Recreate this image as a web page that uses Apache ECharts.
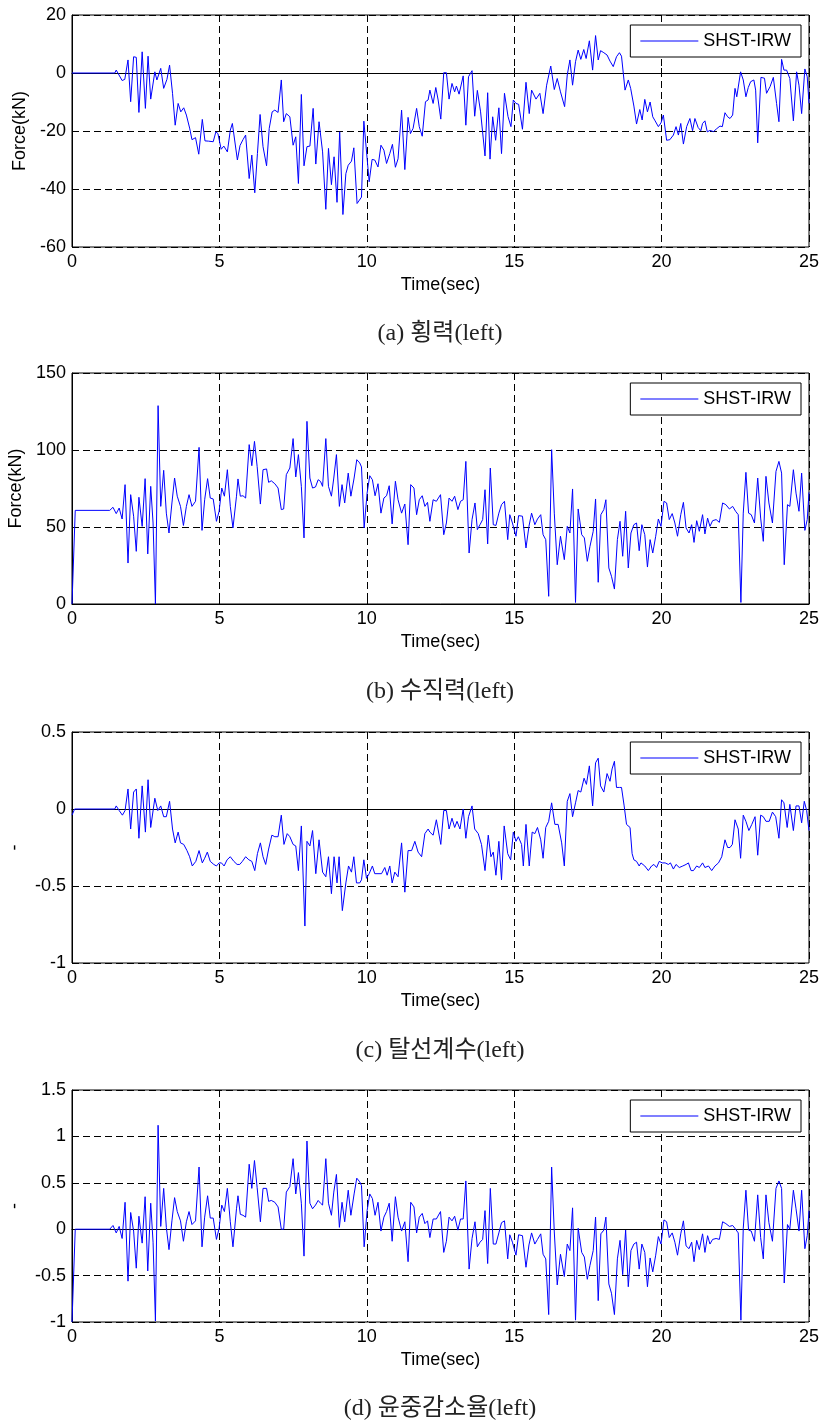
<!DOCTYPE html>
<html>
<head>
<meta charset="utf-8">
<script src="https://cdn.jsdelivr.net/npm/echarts@6/dist/echarts.min.js"></script>
<style>
html,body{margin:0;padding:0;background:#fff;}
#chart{width:826px;height:1424px;}
</style>
</head>
<body>
<div id="chart"></div>
<script>
// ---------- Data ----------
const seriesName = 'SHST-IRW';
const xTicks = [0, 5, 10, 15, 20, 25];
const captions = ['(a) 횡력(left)', '(b) 수직력(left)', '(c) 탈선계수(left)', '(d) 윤중감소율(left)'];
const yNames = ['Force(kN)', 'Force(kN)', '-', '-'];

// (a) lateral force
const timeA = [0,1.45,1.5,1.7,1.79,1.9,1.99,2.09,2.18,2.27,
2.38,2.49,2.58,2.67,2.81,2.88,3.01,3.11,3.22,3.31,
3.41,3.5,3.6,3.69,3.79,3.88,3.99,4.07,4.19,4.3,
4.42,4.51,4.63,4.79,4.88,4.95,5.06,5.15,5.27,5.37,
5.44,5.61,5.7,5.8,5.89,6.01,6.1,6.2,6.29,6.38,
6.48,6.6,6.69,6.79,6.88,6.99,7.1,7.18,7.27,7.39,
7.5,7.59,7.68,7.78,7.87,7.97,8.07,8.18,8.27,8.38,
8.5,8.61,8.7,8.8,8.89,8.99,9.08,9.19,9.29,9.37,
9.48,9.56,9.67,9.82,9.9,10.08,10.18,10.27,10.38,10.48,
10.58,10.67,10.78,10.87,10.97,11.06,11.18,11.29,11.4,11.48,
11.57,11.69,11.78,11.88,11.99,12.08,
12.14,12.25,12.34,12.42,12.51,12.61,12.7,12.79,12.89,12.98,
13.04,13.13,13.27,13.36,13.45,13.57,13.66,13.75,13.86,14.01,
14.1,14.18,14.27,14.37,14.48,14.57,14.67,14.79,14.89,14.97,
15.06,15.15,15.28,15.4,15.51,15.59,15.74,15.87,15.98,16.1,
16.24,16.36,16.46,16.57,16.71,16.8,16.89,16.98,17.08,17.17,
17.26,17.36,17.44,17.55,17.66,17.76,17.85,17.93,18.04,18.15,
18.25,18.36,18.47,18.57,18.64,18.76,18.87,18.95,19.06,19.15,
19.26,19.34,19.43,19.52,19.61,19.7,19.78,19.89,19.98,20.06,
20.17,20.28,20.4,20.49,20.57,20.65,20.74,20.85,20.96,21.05,
21.13,21.24,21.33,21.39,21.47,21.55,21.64,21.76,21.87,21.98,
22.06,22.15,22.24,22.32,22.41,22.49,22.55,22.68,22.77,22.86,
22.94,23.02,23.13,23.19,23.26,23.37,23.49,23.56,23.68,23.79,
23.9,23.98,24.07,24.15,24.24,24.35,24.47,24.58,24.66,24.75,
24.86,24.94,25];
const lateralForce = [0,0,1,-2.6,-2.2,4.5,-9.9,5.6,5.4,-13.6,
7.3,-12.2,5.8,-9,0.4,-2.4,1.6,-5.3,-2.2,2.7,
-7,-18,-10.5,-13.4,-12,-14.5,-19,-23,-22.3,-28,
-16,-23.4,-23.5,-23.7,-20.3,-20.9,-26.3,-25.2,-27.2,-19.7,
-17.4,-30,-25,-23,-21.4,-36.4,-28.3,-41.3,-27.8,-14.3,
-25.4,-32,-19.1,-13.4,-12.8,-13.6,-2.4,-16.8,-14,-15.1,
-24.9,-22,-38.1,-7.4,-32,-25.4,-25.2,-12.2,-31.4,-16.8,
-27.2,-47,-26,-38.5,-28.9,-44.6,-20.3,-48.8,-34.7,-31.8,
-30.4,-25.8,-45,-42.8,-16.6,-37.5,-29.8,-30,-32.4,-24.9,
-26.6,-31.2,-27.8,-24.6,-32.5,-29.6,-12.8,-33.3,-15.3,-20.9,
-19.1,-12.2,-18.5,-21.8,-9.9,-9.3,
-5.9,-10.5,-5,-9.3,-15.9,0.1,0.1,-9,-3.6,-6.5,
-4.5,-7.3,-1,-18,-1.3,0.8,-14.9,-6,-13.4,-28.6,
-6.8,-29.7,-15.1,-23.2,-12,-27.8,-7,-15,-18.5,-9.3,
-10.5,-10.8,-19.4,-3.2,-14,-5.9,-9,-7,-14,-4.2,
2.4,-5.7,-1.9,-6.5,-11.6,-0.7,4.5,-4.2,3.9,7.9,
4.7,8.1,5,11.1,1,12.9,4.5,7.7,7,6.2,
4.1,2.2,5.6,7,5.8,-5.9,-2.4,-5.3,-11.4,-17.6,
-12.6,-16.2,-9.1,-13.4,-10,-15.1,-16.5,-18.5,-17.2,-14.5,
-23.2,-23,-21.4,-18.5,-21.4,-17.4,-24.5,-18.5,-15.7,-19.9,
-15.7,-18.8,-19.9,-17.4,-16.5,-20.3,-19.8,-20.2,-19.2,-18.3,
-18.5,-13.7,-15.1,-15.7,-14.5,-5.3,-8.2,0.4,-2.4,-8.2,
-5,-3,-2.4,-5.9,-24.1,-1.5,-1.8,-7,-4.7,-1.5,
-10.5,-16.8,4.7,1,1,-1.9,-16.5,0.4,-4.2,-14,
1.4,-1.3,-10.5];

// (b) vertical force and (d) load reduction share the same sample times
const timeB = [0,0.11,1.28,1.39,1.5,1.6,1.7,1.8,1.9,1.99,
2.09,2.18,2.27,2.38,2.48,2.57,2.67,2.75,2.83,2.92,
3.01,3.11,3.2,3.29,3.39,3.48,3.57,3.68,3.78,3.88,
3.97,4.07,4.19,4.31,4.41,4.5,4.6,4.69,4.79,4.9,
4.99,5.08,5.17,5.27,5.37,5.46,5.58,5.63,5.71,5.8,
5.89,6.01,6.1,6.19,6.28,6.39,6.48,6.6,6.67,6.76,
6.88,6.99,7.1,7.18,7.27,7.39,7.5,7.59,7.68,7.78,
7.87,7.97,8.07,8.16,8.26,8.35,8.43,8.5,8.61,8.7,
8.8,8.88,8.97,9.07,9.16,9.25,9.37,9.46,9.57,9.66,
9.76,9.82,9.91,10.01,10.1,10.19,10.28,10.38,10.48,10.58,
10.67,10.76,10.86,10.97,11.06,11.18,11.29,11.4,11.49,11.6,
11.69,11.78,11.88,11.97,12.06,
12.14,12.25,12.36,12.5,12.61,12.7,12.79,12.89,12.98,13.09,
13.18,13.27,13.36,13.47,13.57,13.67,13.75,13.84,13.93,14.01,
14.1,14.19,14.29,14.38,14.48,14.57,14.67,14.78,14.85,14.94,
15.06,15.15,15.28,15.4,15.5,15.59,15.7,15.79,15.9,15.98,
16.07,16.17,16.27,16.36,16.46,16.57,16.7,16.8,16.89,16.98,
17.08,17.17,17.29,17.38,17.48,17.57,17.68,17.76,17.85,17.94,
18.04,18.11,18.21,18.3,18.4,18.5,18.59,18.68,18.78,18.87,
18.96,19.06,19.15,19.24,19.33,19.43,19.52,19.61,19.7,19.8,
19.89,19.98,20.08,20.17,20.26,20.36,20.45,20.54,20.65,20.74,
20.83,20.93,21.02,21.1,21.19,21.28,21.39,21.47,21.56,21.64,
21.73,21.85,21.96,22.07,22.18,22.3,22.41,22.51,22.6,22.69,
22.77,22.86,22.95,23.04,23.15,23.26,23.36,23.45,23.54,23.64,
23.76,23.88,23.98,24.07,24.16,24.27,24.35,24.47,24.56,24.66,
24.75,24.86,24.94,25];
const verticalForce = [0,60.8,60.8,62.8,58.7,62.3,55.2,77.5,26.6,71,
57,34.2,69.3,50.4,81.4,32.5,76.4,52.6,0,128.8,
63.4,86.8,59,46.1,65.6,81.8,70,63.4,51,63.4,
71,63.4,66.7,101.7,47.8,67.7,81.4,68.8,68.2,53.7,
60.2,75.3,70,87.2,63.4,49.4,70,81.2,70,70.3,
68.8,103.5,89.8,105.6,89.4,64.9,87.2,87.7,79,80,
78.1,75.3,61.3,61.7,84,88.3,107.4,82.5,97,76.4,
42.9,118.6,81.8,75.3,76,80.7,79.6,76.4,107.4,76.4,
70,81.8,97,63.4,77.5,65.6,85,70,81.8,93.7,
91.6,89,49.4,72,83.3,80.7,70.3,78.1,59,68.8,
70.3,76.8,52,79.7,67.7,59,64.9,38.5,77.5,75.3,
58,67.7,70.3,63.4,66,
53.7,67.7,66.7,71,45,52.6,68.8,66.7,70,61.3,
66.7,67.7,92.6,33.1,54.8,65.6,48.3,51.5,54.8,74.2,
39,88.3,51.5,51,59,64.5,66.7,41.8,58,52.6,
44,57.4,57,36.4,50.4,59,51.5,55.2,58,45,
41.8,5,100.2,59,25.5,44,28.8,50.4,46.1,74.7,
1,61.7,45,42.9,27.7,37.4,47.2,68.2,14.1,58,
61.3,67.7,23.4,18,9.7,41.8,53.7,31,60.2,23.4,
46.1,51.5,52.6,34.6,51.5,45,24,41.8,33.1,44,
55.2,50.4,66.7,65.6,54.8,58.7,52.6,44,58,66,
49.4,46.1,51.5,40,54.1,47.2,58,45.5,55.8,50.4,
54.1,54.8,53,65.6,64.5,61.7,63.4,60.2,58,1,
59,85.5,59,58,52.6,81.8,55.8,40.7,82.9,65.6,
52.6,86.1,92.6,85,25.5,64.5,63.4,87.2,72,60.2,
85,47.8,54.8,72.5];
const loadReduction = [-1,0,0,0.04,-0.04,0.03,-0.1,0.29,-0.56,0.18,
-0.02,-0.42,0.14,-0.15,0.35,-0.45,0.28,-0.14,-0.99,1.12,
0.03,0.44,0.02,-0.22,0.09,0.34,0.19,0.09,-0.13,0.08,
0.19,0.05,0.09,0.67,-0.19,0.13,0.36,0.12,0.12,-0.11,
0.01,0.26,0.19,0.44,0.08,-0.19,0.22,0.36,0.16,0.15,
0.13,0.7,0.44,0.74,0.45,0.08,0.44,0.44,0.3,0.31,
0.29,0.24,0,0,0.4,0.46,0.76,0.38,0.61,0.28,
-0.29,0.95,0.28,0.22,0.26,0.31,0.28,0.26,0.76,0.28,
0.15,0.4,0.59,0.02,0.29,0.08,0.42,0.15,0.38,0.55,
0.51,0.47,-0.19,0.2,0.38,0.33,0.15,0.29,-0.02,0.13,
0.19,0.28,-0.13,0.35,0.13,-0.02,0.08,-0.35,0.29,0.24,
-0.04,0.13,0.17,0.06,0.09,
-0.09,0.11,0.11,0.19,-0.25,-0.13,0.13,0.09,0.14,-0.01,
0.11,0.11,0.52,-0.43,-0.1,0.08,-0.19,-0.14,-0.11,0.2,
-0.37,0.44,-0.16,-0.16,-0.04,0.07,0.09,-0.32,-0.06,-0.14,
-0.28,-0.06,-0.07,-0.41,-0.17,-0.04,-0.16,-0.11,-0.05,-0.27,
-0.32,-0.92,0.67,-0.03,-0.6,-0.27,-0.51,-0.16,-0.23,0.23,
-0.98,0.01,-0.25,-0.3,-0.54,-0.39,-0.23,0.13,-0.77,-0.05,
-0.01,0.13,-0.59,-0.69,-0.92,-0.32,-0.12,-0.49,-0.01,-0.62,
-0.23,-0.16,-0.14,-0.43,-0.16,-0.25,-0.62,-0.31,-0.46,-0.28,
-0.08,-0.16,0.1,0.08,-0.09,-0.04,-0.14,-0.28,-0.05,0.09,
-0.18,-0.21,-0.14,-0.35,-0.12,-0.22,-0.05,-0.25,-0.07,-0.16,
-0.11,-0.1,-0.11,0.08,0.06,0.03,0.04,0,-0.04,-0.98,
0.01,0.42,-0.01,-0.02,-0.13,0.37,-0.09,-0.32,0.37,0.07,
-0.13,0.44,0.52,0.44,-0.58,0.05,0,0.42,0.22,-0.02,
0.42,-0.21,-0.07,0.2];

// (c) derailment coefficient
const timeC = [0,0.09,1.45,1.5,1.6,1.71,1.8,1.9,1.99,2.09,
2.18,2.27,2.38,2.49,2.58,2.67,2.81,2.91,3.01,3.11,
3.2,3.31,3.41,3.5,3.6,3.68,3.79,3.9,3.99,4.08,
4.2,4.31,4.42,4.5,4.59,4.69,4.81,4.9,4.99,5.07,
5.16,5.26,5.37,5.49,5.6,5.69,5.78,5.89,6,6.1,
6.2,6.29,6.39,6.48,6.57,6.67,6.78,6.88,6.99,7.1,
7.19,7.3,7.39,7.5,7.59,7.68,7.78,7.9,7.97,8.07,
8.16,8.27,8.38,8.5,8.61,8.7,8.8,8.89,8.99,9.06,
9.17,9.29,9.38,9.48,9.56,9.65,9.76,9.82,9.9,9.99,
10.08,10.19,10.27,10.38,10.5,10.61,10.69,10.78,10.86,10.95,
11.06,11.18,11.29,11.4,11.52,11.63,11.74,11.86,11.97,12.08,
12.14,12.25,12.36,12.51,12.61,12.7,12.79,12.89,12.98,13.06,
13.16,13.27,13.36,13.45,13.57,13.66,13.78,13.89,14.01,14.12,
14.21,14.29,14.38,14.48,14.57,14.66,14.78,14.88,14.97,15.06,
15.14,15.25,15.31,15.4,15.51,15.61,15.7,15.79,15.9,15.98,
16.07,16.17,16.27,16.38,16.49,16.61,16.7,16.8,16.89,16.98,
17.08,17.17,17.26,17.37,17.45,17.55,17.66,17.76,17.85,17.93,
18.04,18.15,18.25,18.32,18.4,18.47,18.57,18.64,18.73,18.81,
18.93,19,19.06,19.15,19.24,19.3,19.43,19.55,19.66,19.74,
19.83,19.92,20.02,20.12,20.23,20.3,20.4,20.49,20.6,20.72,
20.83,20.91,21,21.08,21.19,21.28,21.39,21.47,21.59,21.7,
21.81,21.93,22.04,22.15,22.24,22.32,22.4,22.49,22.6,22.68,
22.77,22.86,22.96,23.06,23.17,23.26,23.36,23.45,23.54,23.65,
23.76,23.87,23.98,24.07,24.15,24.26,24.35,24.47,24.56,24.66,
24.75,24.84,24.92,25];
const derailCoef = [-0.04,0,0,0.02,-0.01,-0.04,-0.01,0.13,-0.13,0.11,
0.13,-0.19,0.15,-0.15,0.19,-0.12,0.07,-0.01,0.02,-0.05,
-0.05,0.05,-0.13,-0.22,-0.15,-0.22,-0.23,-0.27,-0.31,-0.37,
-0.34,-0.27,-0.35,-0.32,-0.28,-0.34,-0.36,-0.37,-0.35,-0.35,
-0.37,-0.33,-0.31,-0.34,-0.36,-0.36,-0.34,-0.31,-0.33,-0.34,
-0.4,-0.29,-0.22,-0.31,-0.36,-0.26,-0.17,-0.18,-0.18,-0.04,
-0.23,-0.16,-0.18,-0.23,-0.24,-0.4,-0.11,-0.76,-0.21,-0.24,
-0.14,-0.42,-0.2,-0.41,-0.44,-0.31,-0.55,-0.31,-0.48,-0.31,
-0.66,-0.48,-0.37,-0.41,-0.31,-0.48,-0.48,-0.46,-0.33,-0.45,
-0.42,-0.37,-0.42,-0.42,-0.42,-0.38,-0.43,-0.37,-0.48,-0.41,
-0.44,-0.22,-0.54,-0.27,-0.27,-0.21,-0.28,-0.31,-0.16,-0.13,
-0.15,-0.17,-0.07,-0.23,-0.01,-0.01,-0.13,-0.06,-0.12,-0.08,
-0.13,0,-0.19,-0.05,0.02,-0.13,-0.16,-0.23,-0.4,-0.17,
-0.31,-0.28,-0.43,-0.21,-0.46,-0.11,-0.29,-0.33,-0.15,-0.21,
-0.18,-0.23,-0.37,-0.1,-0.37,-0.15,-0.16,-0.12,-0.2,-0.32,
-0.12,-0.08,0.04,-0.1,-0.1,-0.22,-0.37,0.05,0.1,-0.05,
0.04,0.12,0.11,0.2,0.16,0.28,0.02,0.3,0.33,0.15,
0.11,0.23,0.18,0.26,0.31,0.14,0.14,0.14,0.02,-0.1,
-0.12,-0.29,-0.33,-0.34,-0.37,-0.35,-0.37,-0.4,-0.37,-0.36,
-0.38,-0.34,-0.35,-0.35,-0.36,-0.35,-0.39,-0.36,-0.38,-0.37,
-0.36,-0.35,-0.4,-0.4,-0.37,-0.38,-0.35,-0.38,-0.37,-0.4,
-0.37,-0.35,-0.31,-0.2,-0.25,-0.25,-0.23,-0.07,-0.13,-0.32,
-0.04,-0.08,-0.14,-0.1,-0.05,-0.3,-0.04,-0.05,-0.08,-0.08,
-0.02,-0.05,-0.19,0.06,0.04,-0.12,0.03,-0.14,0.02,0.02,
-0.09,0.05,-0.01,-0.14];

// y-axis ranges (min, max, interval) per panel
const yMin = [-60, 0, -1, -1];
const yMax = [20, 150, 0.5, 1.5];
const yStep = [20, 50, 0.5, 0.5];

// ---------- Chart ----------
function zip(t, v) { return t.map((x, i) => [x, v[i]]); }
const panels = [zip(timeA, lateralForce), zip(timeB, verticalForce), zip(timeC, derailCoef), zip(timeB, loadReduction)];

const gridTops = [15, 373, 732, 1090];
const gridHeights = [232, 231, 231, 232];
const sansFont = 'Liberation Sans, Arial, sans-serif';
const fs = 18;
const dash = [7, 4];

const option = {
  backgroundColor: '#ffffff',
  animation: false,
  grid: gridTops.map((t, i) => ({
    left: 72, width: 737, top: t, height: gridHeights[i],
    containLabel: false, outerBoundsMode: 'none',
    show: true, borderColor: '#000', borderWidth: 1, backgroundColor: '#fff'
  })),
  xAxis: gridTops.map((t, i) => ({
    type: 'value', gridIndex: i, min: 0, max: 25, interval: 5,
    name: 'Time(sec)', nameLocation: 'middle', nameGap: 29,
    nameTextStyle: { fontFamily: sansFont, fontSize: fs, color: '#000' },
    axisLine: { show: true, lineStyle: { color: '#000', width: 1 } },
    axisTick: { show: true, inside: true, length: 5, lineStyle: { color: '#000' } },
    axisLabel: { fontFamily: sansFont, fontSize: fs, color: '#000', margin: 6 },
    splitLine: { show: true, lineStyle: { color: '#000', type: dash, width: 1 } }
  })),
  yAxis: gridTops.map((t, i) => ({
    type: 'value', gridIndex: i, min: yMin[i], max: yMax[i], interval: yStep[i],
    name: yNames[i], nameLocation: 'middle', nameGap: 42, nameRotate: 90,
    nameTextStyle: { fontFamily: sansFont, fontSize: fs, color: '#000' },
    axisLine: { show: true, lineStyle: { color: '#000', width: 1 } },
    axisTick: { show: true, inside: true, length: 5, lineStyle: { color: '#000' } },
    axisLabel: { fontFamily: sansFont, fontSize: fs, color: '#000', margin: 6 },
    splitLine: { show: true, lineStyle: { color: '#000', type: dash, width: 1 } }
  })),
  legend: gridTops.map((t, i) => ({
    data: [seriesName], top: t + 10, right: 25, orient: 'vertical',
    selectedMode: false,
    icon: 'rect', itemWidth: 58, itemHeight: 1,
    backgroundColor: '#fff', borderColor: '#000', borderWidth: 1,
    padding: [7, 10, 7, 10],
    textStyle: { fontFamily: sansFont, fontSize: fs, color: '#000' }
  })),
  title: captions.map((c, i) => ({
    text: c, left: 435, top: [317, 675, 1034, 1392][i], textAlign: 'center',
    textStyle: { fontFamily: 'Liberation Serif, Noto Sans CJK KR, serif', fontSize: 24, fontWeight: 'normal', color: '#222' }
  })),
  series: panels.map((d, i) => ({
    name: seriesName, type: 'line', xAxisIndex: i, yAxisIndex: i,
    data: d, symbol: 'none', smooth: false,
    lineStyle: { color: '#0000ff', width: 1 },
    itemStyle: { color: '#0000ff' }
  }))
};

const chart = echarts.init(document.getElementById('chart'), null, { renderer: 'canvas' });
chart.setOption(option);
</script>
</body>
</html>
